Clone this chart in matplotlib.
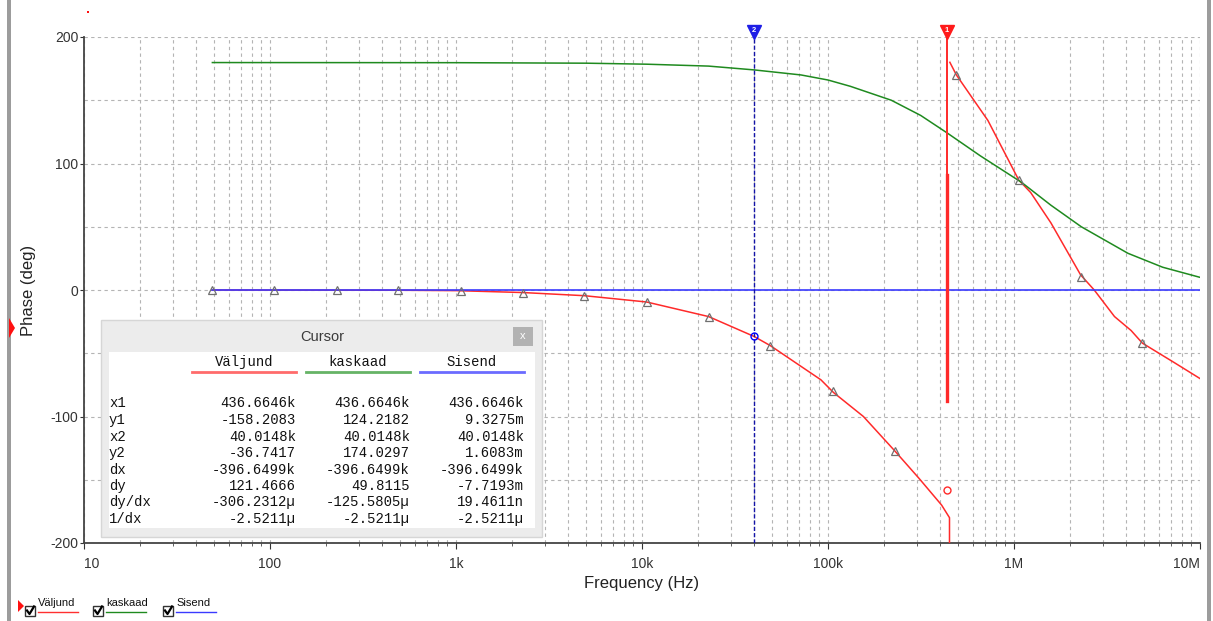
import matplotlib.pyplot as plt
import matplotlib.ticker as mticker
from matplotlib.patches import Rectangle, Polygon

plt.rcParams['font.family'] = ['Liberation Sans', 'DejaVu Sans']
plt.rcParams['axes.unicode_minus'] = False

# Phase traces (Hz, deg)
# Väljund wraps at -180 deg, so it is kept in two pieces
valjund_freq_a = [49, 500, 1000, 2280, 4900, 10600, 22800, 40015, 49000, 91600,
                  107000, 155000, 228000, 309000, 408000, 450000, 450000]
valjund_phase_a = [0, -0.2, -0.5, -2, -4.5, -9.5, -21, -36.7, -44, -71,
                   -81, -100, -127, -149, -170, -180, -200]
valjund_freq_b = [452000, 490000, 724000, 1060000, 1230000, 1580000, 2280000,
                  2700000, 3470000, 4260000, 4900000, 7200000, 10000000]
valjund_phase_b = [180, 170, 134, 87, 77, 53, 12, 0, -21, -32, -42, -57, -70]

kaskaad_freq = [49, 1000, 5000, 10600, 22800, 40015, 71600, 100000, 132000,
                219000, 315000, 436664, 660000, 1100000, 1580000, 2300000,
                4100000, 6300000, 10000000]
kaskaad_phase = [179.8, 179.7, 179.3, 178.5, 177, 174.0, 170, 166, 161,
                 150, 138, 124.2, 106, 85, 67, 50, 29, 18, 10]

sisend_freq = [49, 10000000]
sisend_phase = [0, 0]

# triangle markers on the selected trace
marker_freq = [49, 105, 228, 490, 1060, 2280, 4900, 10600, 22800, 49000,
               106000, 228000, 490000, 1060000, 2280000, 4900000]
marker_phase = [0, 0, 0, 0, -0.5, -2, -4.5, -9.5, -21, -44,
                -80, -127, 170, 87, 10, -42]

# cursors
cursor1_x, cursor1_y = 436664.6, -158.2083
cursor2_x, cursor2_y = 40014.8, -36.7417

x_ticks = [10, 100, 1e3, 1e4, 1e5, 1e6, 1e7]
x_tick_labels = ['10', '100', '1k', '10k', '100k', '1M', '10M']
y_ticks = [-200, -100, 0, 100, 200]

# cursor window table
trace_names = ['Väljund', 'kaskaad', 'Sisend']
row_labels = ['x1', 'y1', 'x2', 'y2', 'dx', 'dy', 'dy/dx', '1/dx']
valjund_vals = ['436.6646k', '-158.2083', '40.0148k', '-36.7417', '-396.6499k',
                '121.4666', '-306.2312µ', '-2.5211µ']
kaskaad_vals = ['436.6646k', '124.2182', '40.0148k', '174.0297', '-396.6499k',
                '49.8115', '-125.5805µ', '-2.5211µ']
sisend_vals = ['436.6646k', '9.3275m', '40.0148k', '1.6083m', '-396.6499k',
               '-7.7193m', '19.4611n', '-2.5211µ']

RED = '#ff2a2a'
GREEN = '#1f8a1f'
BLUE = '#3a3aff'

W, H = 1213, 621
fig = plt.figure(figsize=(W / 100, H / 100), dpi=100)
ax = fig.add_axes([84 / W, 1 - 543 / H, (1200 - 84) / W, (543 - 37) / H])

ax.set_xscale('log')
ax.set_xlim(10, 1e7)
ax.set_ylim(-200, 200)

ax.xaxis.set_major_locator(mticker.FixedLocator(x_ticks))
ax.xaxis.set_major_formatter(mticker.FixedFormatter(x_tick_labels))
ax.xaxis.set_minor_locator(mticker.LogLocator(base=10, subs=range(2, 10), numticks=20))
ax.xaxis.set_minor_formatter(mticker.NullFormatter())
ax.yaxis.set_major_locator(mticker.FixedLocator(y_ticks))
ax.yaxis.set_minor_locator(mticker.MultipleLocator(50))

ax.grid(True, which='both', color='#b4b4b4', linestyle=(0, (3, 3)), linewidth=0.8)
ax.set_axisbelow(True)
for s in ['top', 'right']:
    ax.spines[s].set_visible(False)
for s in ['left', 'bottom']:
    ax.spines[s].set_color('#444444')
    ax.spines[s].set_linewidth(1.3)

ax.tick_params(axis='x', which='major', length=4, pad=6, labelsize=10, colors='#333333')
ax.tick_params(axis='x', which='minor', length=2.5, color='#444444')
ax.tick_params(axis='y', which='major', length=3, pad=1, labelsize=10, colors='#333333')
ax.tick_params(axis='y', which='minor', length=0)
xl = ax.get_xticklabels()
xl[0].set_ha('left')
xl[-1].set_ha('right')

ax.set_xlabel('Frequency (Hz)', fontsize=12, color='#222222', labelpad=4)
ax.set_ylabel('Phase (deg)', fontsize=12, color='#222222')
ax.yaxis.set_label_coords(-0.043, 0.5)

# traces
ax.plot(valjund_freq_a, valjund_phase_a, color=RED, lw=1.1, zorder=3)
ax.plot(valjund_freq_b, valjund_phase_b, color=RED, lw=1.1, zorder=3)
ax.plot(kaskaad_freq, kaskaad_phase, color=GREEN, lw=1.1, zorder=3)
ax.plot(sisend_freq, sisend_phase, color=BLUE, lw=1.2, zorder=4)
ax.plot(marker_freq, marker_phase, ls='none', marker='^', ms=5.5, mfc='none',
        mec='#707070', mew=0.9, zorder=5)

# cursor lines
ax.plot([cursor2_x, cursor2_x], [-200, 200], color='#1414a8', lw=1,
        ls=(0, (3, 1.5)), zorder=6)
ax.plot([cursor1_x, cursor1_x], [200, 91], color=RED, lw=1.4, zorder=6)
ax.plot([cursor1_x, cursor1_x], [91, -88], color=RED, lw=2.4, zorder=6)
ax.plot(cursor2_x, cursor2_y, marker='o', ms=5, mfc='none', mec='#0000ff', zorder=7)
ax.plot(cursor1_x, cursor1_y, marker='o', ms=5, mfc='none', mec=RED, zorder=7)
for cx, col, lab in [(cursor2_x, '#1e1ee6', '2'), (cursor1_x, '#ff1a1a', '1')]:
    ax.plot(cx, 204, marker='v', ms=10, color=col, clip_on=False, zorder=8)
    ax.text(cx, 205.5, lab, color='white', fontsize=5.5, fontweight='bold',
            ha='center', va='center', clip_on=False, zorder=9)

# overlay in pixel coordinates for the window decorations
ov = fig.add_axes([0, 0, 1, 1])
ov.set_xlim(0, W)
ov.set_ylim(H, 0)
ov.axis('off')
ov.set_zorder(10)
ov.patch.set_alpha(0)

ov.add_patch(Rectangle((7, 0), 3.5, H, color='#9c9c9c', lw=0))
ov.add_patch(Rectangle((1207, 0), 4, H, color='#9c9c9c', lw=0))
ov.add_patch(Polygon([(9, 318), (15, 328), (9, 338)], color='#ff1010', lw=0))
ov.add_patch(Rectangle((87, 11), 2, 2, color='#ff1010', lw=0))

# cursor window
ov.add_patch(Rectangle((101, 320), 441, 217, facecolor='#ececec', edgecolor='#d6d6d6', lw=1))
ov.add_patch(Rectangle((109, 352), 426, 176, facecolor='white', edgecolor='none'))
ov.text(322, 337, 'Cursor', fontsize=10.5, color='#3a3a3a', ha='center', va='center')
ov.add_patch(Rectangle((513, 327), 20, 19, facecolor='#b2b2b2', edgecolor='none'))
ov.text(523, 336, 'x', fontsize=8, color='white', ha='center', va='center')

mono = 'Liberation Mono'
col_right = [296, 410, 524]
col_colors = ['#ff6b6b', '#66b366', '#6b6bff']
for name, xr, c in zip(trace_names, col_right, col_colors):
    ov.text(xr - 52, 362, name, family=mono, fontsize=10, ha='center', va='center', color='#111111')
    ov.plot([xr - 104, xr], [372, 372], color=c, lw=2)
row_y = [403, 420, 437, 453, 470, 486, 502, 519]
for lab, y in zip(row_labels, row_y):
    ov.text(109, y, lab, family=mono, fontsize=10, ha='left', va='center', color='#111111')
for vals, xr in zip([valjund_vals, kaskaad_vals, sisend_vals], col_right):
    for v, y in zip(vals, row_y):
        ov.text(xr, y, v, family=mono, fontsize=10, ha='right', va='center', color='#111111')

# legend with check boxes
ov.add_patch(Polygon([(18, 600), (24, 606), (18, 612)], color='#ff1010', lw=0))
legend_x = [25, 93, 163]
legend_colors = ['#ff3030', '#1f8a1f', '#3a3aff']
for name, lx, c in zip(trace_names, legend_x, legend_colors):
    ov.add_patch(Rectangle((lx, 606), 10, 10, facecolor='white', edgecolor='#333333', lw=1))
    ov.plot([lx + 2, lx + 4.5, lx + 9], [610.5, 614, 606.5], color='black', lw=1.6)
    ov.text(lx + 13, 603, name, fontsize=8, ha='left', va='center', color='#111111')
    ov.plot([lx + 13, lx + 53], [612, 612], color=c, lw=1)

fig.savefig('out.png', dpi=100)
